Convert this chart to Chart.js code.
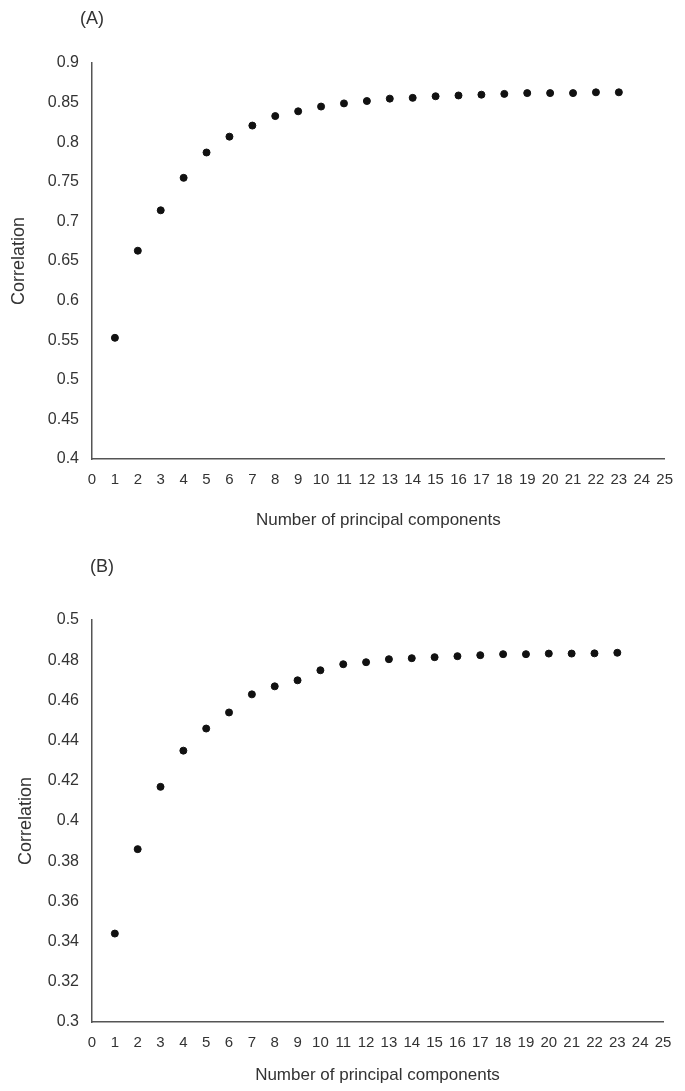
<!DOCTYPE html>
<html lang="en">
<head>
  <meta charset="UTF-8">
  <title>Correlation vs number of principal components</title>
  <style>
    * { margin: 0; padding: 0; box-sizing: border-box; }
    body {
      background: #fff;
      width: 685px;
      height: 1091px;
      position: relative;
      font-family: 'Liberation Sans', Arial, sans-serif;
      overflow: hidden;
    }
    .panel {
      position: absolute;
      left: 0;
      width: 685px;
    }
    #panelA { top: 0; height: 545px; }
    #panelB { top: 545px; height: 546px; }
    .tag {
      position: absolute;
      font-size: 18px;
      color: #333;
      transform: translate(-50%, -50%);
      line-height: 1;
    }
  </style>
  <script src="https://cdn.jsdelivr.net/npm/chart.js"></script>
</head>
<body>

  <div class="panel" id="panelA"><canvas id="chartA" width="685" height="545"></canvas></div>
  <div class="panel" id="panelB"><canvas id="chartB" width="685" height="546"></canvas></div>
  <div class="tag" style="left:92px; top:18px;">(A)</div>
  <div class="tag" style="left:102px; top:566px;">(B)</div>

  <script>
// Data
const components = [1, 2, 3, 4, 5, 6, 7, 8, 9, 10, 11, 12, 13, 14, 15, 16, 17, 18, 19, 20, 21, 22, 23];
const corrA = [0.553, 0.663, 0.714, 0.755, 0.787, 0.807, 0.821, 0.833, 0.839, 0.845, 0.849, 0.852,
               0.855, 0.856, 0.858, 0.859, 0.860, 0.861, 0.862, 0.862, 0.862, 0.863, 0.863];
const corrB = [0.344, 0.386, 0.417, 0.435, 0.446, 0.454, 0.463, 0.467, 0.470, 0.475, 0.478, 0.479,
               0.4805, 0.481, 0.4815, 0.482, 0.4825, 0.483, 0.483, 0.4833, 0.4833, 0.4834, 0.4837];
const xTitle = 'Number of principal components';
const yTitle = 'Correlation';

const textColor = '#333';
const axisColor = '#555';
const fontFamily = "'Liberation Sans', Arial, sans-serif";

function makeChart(id, values, yRange, box) {
  const points = components.map((c, i) => ({ x: c, y: values[i] }));
  return new Chart(document.getElementById(id), {
    type: 'scatter',
    data: {
      datasets: [{
        data: points,
        backgroundColor: '#111',
        borderColor: '#111',
        pointRadius: 3.5,
        pointHoverRadius: 3.5
      }]
    },
    options: {
      responsive: false,
      animation: false,
      events: [],
      layout: {
        padding: { top: box.top, right: box.right, bottom: box.bottom, left: 0 }
      },
      plugins: {
        legend: { display: false },
        tooltip: { enabled: false }
      },
      scales: {
        x: {
          type: 'linear',
          min: 0,
          max: 25,
          grid: { display: false, drawTicks: false },
          border: { display: true, color: axisColor, width: 1.5 },
          ticks: {
            stepSize: 1,
            autoSkip: false,
            maxRotation: 0,
            padding: 12,
            color: textColor,
            font: { family: fontFamily, size: 15 }
          },
          title: {
            display: true,
            text: xTitle,
            color: textColor,
            padding: { top: 4, bottom: 4 },
            font: { family: fontFamily, size: 17 }
          },
          afterFit: s => { s.height = box.xHeight; }
        },
        y: {
          min: yRange[0],
          max: yRange[1],
          grid: { display: false, drawTicks: false },
          border: { display: true, color: axisColor, width: 1.5 },
          ticks: {
            stepSize: yRange[2],
            padding: 13,
            color: textColor,
            font: { family: fontFamily, size: 16 },
            callback: v => String(parseFloat(v.toFixed(3)))
          },
          title: {
            display: true,
            text: yTitle,
            color: textColor,
            padding: { top: box.yTitlePad, bottom: 0 },
            font: { family: fontFamily, size: 18 }
          },
          afterFit: s => { s.width = 92; }
        }
      }
    }
  });
}

makeChart('chartA', corrA, [0.4, 0.9, 0.05],
  { top: 63, right: 11, bottom: 10, xHeight: 76, yTitlePad: 8 });
makeChart('chartB', corrB, [0.3, 0.5, 0.02],
  { top: 75, right: 22, bottom: 1, xHeight: 68, yTitlePad: 15 });
  </script>

</body>
</html>
